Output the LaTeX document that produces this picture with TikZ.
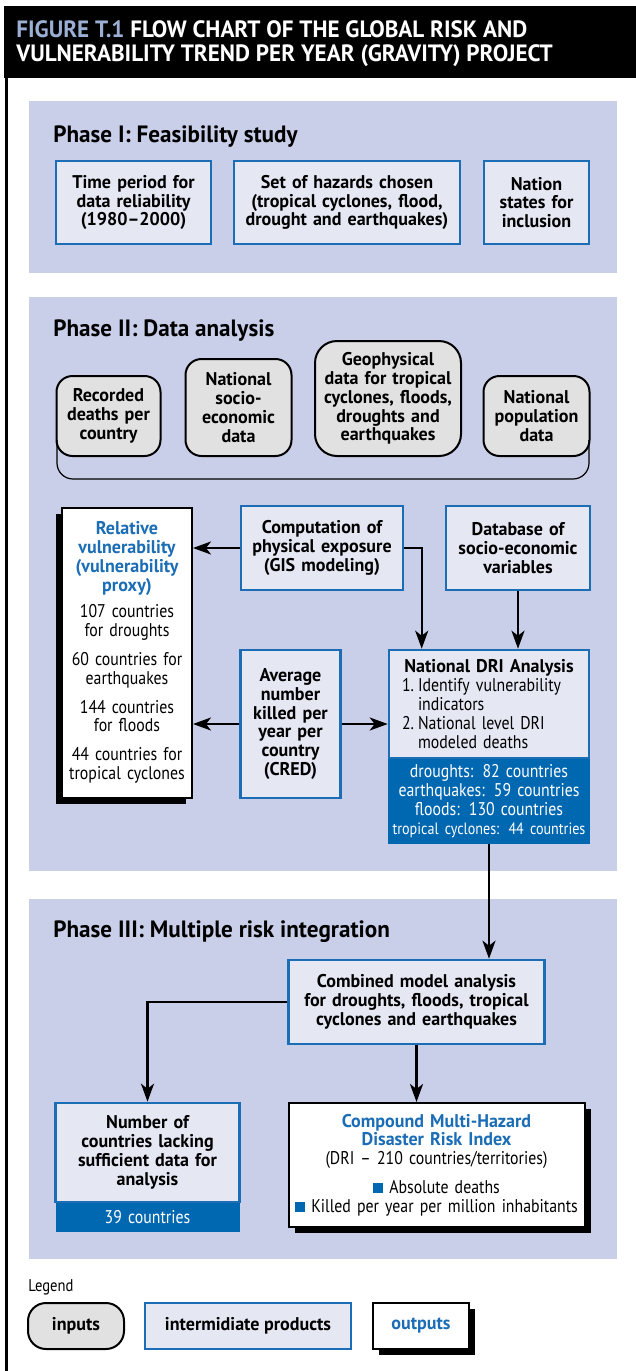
\documentclass[tikz,border=0pt]{standalone}
\usepackage{fontspec}
\setmainfont{PT Sans}[FakeStretch=0.86,BoldFeatures={FakeStretch=0.98}]
\usepackage{xcolor}
\definecolor{PanelLilac}{HTML}{C9CFE8}
\definecolor{PaleBlue}{HTML}{E5E7F3}
\definecolor{BoxBlue}{HTML}{1B6DB5}
\definecolor{DeepBlue}{HTML}{0067B1}
\definecolor{InputGray}{HTML}{E1E1E1}
\definecolor{FigGray}{HTML}{9AAFD3}
\usetikzlibrary{arrows.meta,calc,positioning,shadows}
\newcommand{\bodyfont}{\fontsize{9.2}{9.4}\selectfont}
\newcommand{\sqbul}{{\color{DeepBlue}\rule{5pt}{5pt}}}

\begin{document}
\begin{tikzpicture}[x=0.5pt,y=-0.5pt,
    every node/.style={font=\bodyfont},
    panel/.style={fill=PanelLilac},
    phasehead/.style={anchor=west,inner sep=0pt,font=\fontsize{11.8}{12}\selectfont\bfseries},
    inputbox/.style={draw=black,line width=1pt,fill=InputGray,rounded corners=8pt,
      align=center,inner sep=2pt,font=\bodyfont\bfseries},
    midbox/.style={draw=BoxBlue,line width=1.3pt,fill=PaleBlue,align=center,
      inner sep=2pt,font=\bodyfont\bfseries},
    outbox/.style={draw=black,line width=1pt,fill=white,align=center,inner sep=2pt},
    countbox/.style={fill=DeepBlue,text=white,align=center,inner sep=1pt},
    arr/.style={line width=1.2pt,-{Stealth[length=9pt,width=6.5pt,inset=2.5pt]}}
  ]
  \useasboundingbox (0,0) rectangle (636,1371);

  \fill[black] (4,6) rectangle (636,78);
  \draw[line width=1.5pt] (6.5,78) -- (6.5,1371);
  \node[anchor=north west,align=left,text=white,inner sep=0pt,
    font=\fontsize{11.8}{12.2}\selectfont\bfseries] (title) at (16,20)
    {{\color{FigGray}FIGURE T.1} FLOW CHART OF THE GLOBAL RISK AND\\
     VULNERABILITY TREND PER YEAR (GRAVITY) PROJECT};

  \fill[panel] (29,101) rectangle (617,273);
  \fill[panel] (29,297) rectangle (617,871);
  \fill[panel] (29,899) rectangle (617,1259);

  \node[phasehead] (ph1) at (53,137) {Phase I: Feasibility study};
  \node[midbox,minimum width=77.5pt,minimum height=41.5pt,text width=73pt] (period) at (133.5,202.5)
    {Time period for\\ data reliability\\ (1980--2000)};
  \node[midbox,minimum width=113pt,minimum height=41.5pt,text width=109pt] (hazards) at (347,202.5)
    {Set of hazards chosen\\ (tropical cyclones, flood,\\ drought and earthquakes)};
  \node[midbox,minimum width=52.5pt,minimum height=41.5pt,text width=48pt] (nations) at (536.5,202.5)
    {Nation\\ states for\\ inclusion};

  \node[phasehead] (ph2) at (53,331) {Phase II: Data analysis};
  \node[inputbox,minimum width=51.5pt,minimum height=40pt,text width=48pt] (deaths) at (108.5,416)
    {Recorded\\ deaths per\\ country};
  \node[inputbox,minimum width=52.5pt,minimum height=48.5pt,text width=49pt] (socio) at (238.5,407.5)
    {National\\ socio-\\ economic\\ data};
  \node[inputbox,minimum width=72pt,minimum height=57.5pt,text width=69pt,rounded corners=11pt] (geo) at (388,398.5)
    {Geophysical\\ data for tropical\\ cyclones, floods,\\ droughts and\\ earthquakes};
  \node[inputbox,minimum width=52.5pt,minimum height=40pt,text width=49pt] (popul) at (536.5,416)
    {National\\ population\\ data};
  \draw[line width=0.6pt,rounded corners=8pt] (57,440) -- (57,479) -- (589,479) -- (589,440);

  \node[outbox,drop shadow={shadow xshift=-3pt,shadow yshift=-3pt,opacity=1,fill=black},
    minimum width=64pt,minimum height=145pt,text width=61pt] (relvul) at (127,652.5)
    {{\bfseries\color{BoxBlue}Relative\\ vulnerability\\ (vulnerability\\ proxy)}\\[4pt]
     107 countries\\ for droughts\\[5pt] 60 countries for\\ earthquakes\\[5pt]
     144 countries\\ for floods\\[5pt] 44 countries for\\ tropical cyclones};
  \node[midbox,minimum width=80pt,minimum height=42pt,text width=77pt] (expo) at (322,548)
    {Computation of\\ physical exposure\\ (GIS modeling)};
  \node[midbox,minimum width=71pt,minimum height=42pt,text width=68pt] (socdb) at (518,548)
    {Database of\\ socio-economic\\ variables};
  \node[midbox,minimum width=48.5pt,minimum height=74pt,text width=46pt] (killed) at (290.5,724)
    {Average\\ number\\ killed per\\ year per\\ country\\ (CRED)};
  \node[countbox,minimum width=100.6pt,minimum height=43pt,text width=98.6pt] (dricount) at (489,801)
    {droughts: 82 countries\\ earthquakes: 59 countries\\ floods: 130 countries\\
     {\fontsize{8.2}{9.4}\selectfont tropical cyclones: 44 countries}};
  \node[midbox,minimum width=100pt,minimum height=54pt,text width=87pt,align=left,
    inner xsep=6.5pt,font=\bodyfont] (dri) at (489,704)
    {\makebox[87pt]{\bfseries National DRI Analysis}\\
     \makebox[8pt][l]{1.}Identify vulnerability\\ \hspace*{8pt}indicators\\
     \makebox[8pt][l]{2.}National level DRI\\ \hspace*{8pt}modeled deaths};

  \draw[arr] (expo.west) -- (expo.west -| relvul.east);
  \draw[arr] (expo.east) -| ($(dri.north west)+(34,0)$);
  \draw[arr] (socdb.south) -- (socdb.south |- dri.north);
  \draw[arr] (killed.west) -- (killed.west -| relvul.east);
  \draw[arr] (killed.east) -- (dri.west |- killed.east);

  \node[phasehead] (ph3) at (53,932) {Phase III: Multiple risk integration};
  \node[midbox,minimum width=127.5pt,minimum height=42pt,text width=124pt] (combined) at (416.5,1002)
    {Combined model analysis\\ for droughts, floods, tropical\\ cyclones and earthquakes};
  \node[countbox,minimum width=92pt,minimum height=15pt,text width=88pt] (lackcount) at (147.5,1217)
    {39 countries};
  \node[midbox,minimum width=91.5pt,minimum height=49.5pt,text width=88pt] (lacking) at (147.5,1152.5)
    {Number of\\ countries lacking\\ sufficient data for\\ analysis};
  \node[outbox,drop shadow={shadow xshift=3pt,shadow yshift=-3pt,opacity=1,fill=black},
    minimum width=147.5pt,minimum height=62pt,text width=144pt] (cmdri) at (436.5,1165)
    {{\bfseries\color{BoxBlue}Compound Multi-Hazard\\ Disaster Risk Index}\\
     (DRI -- 210 countries/territories)\\[5pt]
     \sqbul\ Absolute deaths\\ \sqbul\ Killed per year per million inhabitants};

  \draw[arr] (dricount.south) -- (dricount.south |- combined.north);
  \draw[arr] (combined.west) -| (lacking.north);
  \draw[arr] (combined.south) -- (combined.south |- cmdri.north);

  \node[anchor=west,inner sep=0pt,font=\fontsize{8.5}{9}\selectfont] (legend) at (28,1287) {Legend};
  \node[inputbox,minimum width=48pt,minimum height=23pt,rounded corners=9pt] (leginput) at (76,1326) {inputs};
  \node[midbox,minimum width=103pt,minimum height=23pt] (legmid) at (248,1326) {intermidiate products};
  \node[outbox,drop shadow={shadow xshift=3pt,shadow yshift=-3pt,opacity=1,fill=black},
    minimum width=48pt,minimum height=23pt,text=BoxBlue,font=\bodyfont\bfseries] (legout) at (421,1326) {outputs};
\end{tikzpicture}
\end{document}
